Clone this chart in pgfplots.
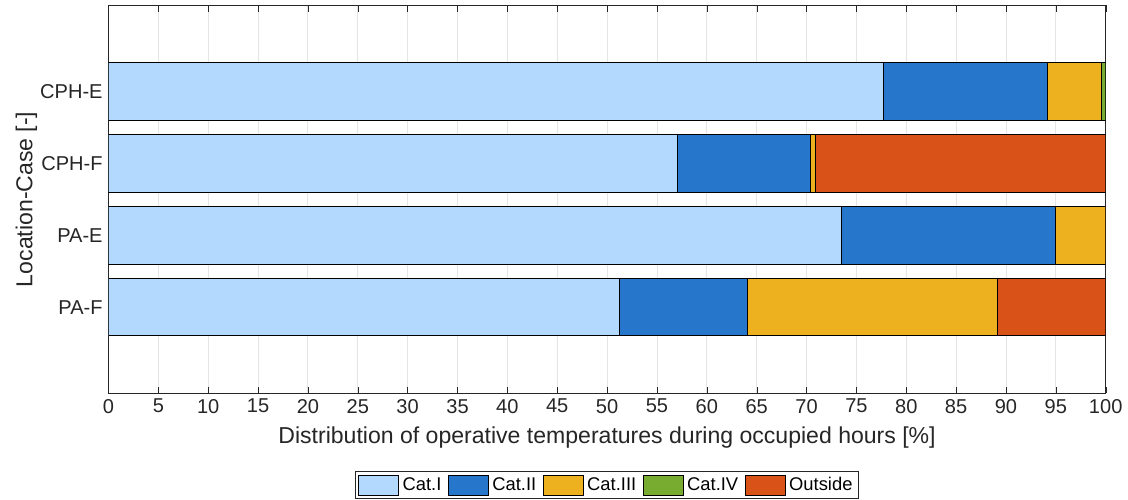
\documentclass[border={6pt 0pt 0pt 3pt}]{standalone}
\usepackage{pgfplots}
\pgfplotsset{compat=1.18}
\usepackage{fontspec}
\setmainfont{Liberation Sans}

\definecolor{catI}{HTML}{B3D9FF}
\definecolor{catII}{HTML}{2677CC}
\definecolor{catIII}{HTML}{EDB120}
\definecolor{catIV}{HTML}{77AC30}
\definecolor{outside}{HTML}{D95319}
\definecolor{axgray}{HTML}{262626}

\begin{document}
\begin{tikzpicture}
\begin{axis}[
    scale only axis,
    width=597pt, height=232.2pt,
    xbar stacked,
    bar width=0.8,
    xmin=0, xmax=100,
    ymin=-0.2, ymax=5.2,
    xtick={0,5,...,100},
    ytick={1,2,3,4},
    yticklabels={PA-F, PA-E, CPH-F, CPH-E},
    tick pos=both,
    tick align=inside,
    major tick length=4pt,
    axis line style={axgray},
    tick style={axgray},
    xmajorgrids,
    grid style={gray!20, line width=0.5pt},
    font=\fontsize{12}{14}\selectfont,
    ticklabel style={text=axgray},
    /pgf/number format/assume math mode=true,
    xlabel={Distribution of operative temperatures during occupied hours [\%]},
    ylabel={Location-Case [-]},
    ylabel shift=-5pt,
    xlabel style={text=axgray, font=\fontsize{13.8}{15}\selectfont, yshift=-1pt},
    ylabel style={text=axgray, font=\fontsize{13.8}{15}\selectfont},
    legend columns=5,
    legend style={
        at={(0.5,-0.2)}, anchor=north,
        draw=axgray, line width=0.5pt,
        font=\fontsize{11}{13}\selectfont,
        /tikz/every even column/.append style={column sep=2pt},
        inner sep=1.5pt,
    },
    legend image code/.code={
        \draw[#1, draw=black] (0pt,-6pt) rectangle (24pt,6pt);
    },
    every axis plot/.append style={draw=black, line width=0.5pt},
]
\addplot[fill=catI] coordinates {(51.2,1) (73.5,2) (57.1,3) (77.7,4)};
\addplot[fill=catII] coordinates {(12.9,1) (21.5,2) (13.3,3) (16.5,4)};
\addplot[fill=catIII] coordinates {(25.0,1) (5.0,2) (0.5,3) (5.4,4)};
\addplot[fill=catIV] coordinates {(0,1) (0,2) (0,3) (0.4,4)};
\addplot[fill=outside] coordinates {(10.9,1) (0,2) (29.1,3) (0,4)};
\legend{Cat.I, Cat.II, Cat.III, Cat.IV, Outside}
\end{axis}
\end{tikzpicture}
\end{document}
